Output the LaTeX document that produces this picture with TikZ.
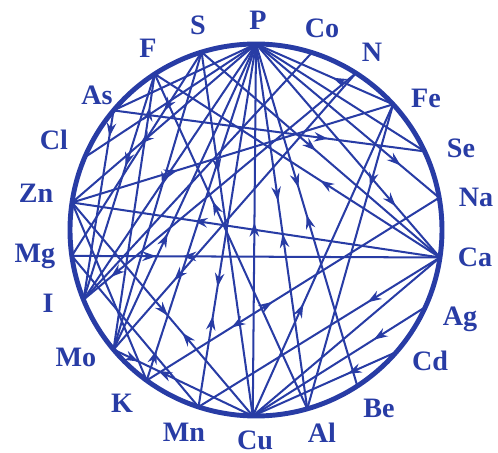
\documentclass[tikz,border=0pt]{standalone}
\usepackage{fontspec}
\setmainfont{Liberation Serif}
\usepackage{tikz}
\usetikzlibrary{calc,arrows.meta,decorations.markings}
\definecolor{elemblue}{RGB}{40,60,165}
\tikzset{
  ring/.style={draw=elemblue, line width=2.8pt},
  bond/.style={color=elemblue, line width=1.15pt},
  elem-label/.style={text=elemblue, font=\fontsize{16}{16}\selectfont\bfseries,
    inner sep=0pt, text height=10.5pt, text depth=0pt},
  fwd-at/.style={postaction={decorate, decoration={markings,
    mark=at position #1 with {\arrow{Stealth[length=8pt,width=5.4pt,inset=2.6pt]}}}}},
  back-at/.style={postaction={decorate, decoration={markings,
    mark=at position #1 with {\arrowreversed{Stealth[length=8pt,width=5.4pt,inset=2.6pt]}}}}}
}

\begin{document}
\begin{tikzpicture}[x=0.02cm, y=0.02cm]
\useasboundingbox (0,0) rectangle (498,453);
\coordinate (O) at (256,223);

% points on the ring
\coordinate (P)  at ($(O)+(90:186)$);
\coordinate (Co) at ($(O)+(72.5:186)$);
\coordinate (N)  at ($(O)+(57.5:186)$);
\coordinate (Fe) at ($(O)+(42.5:186)$);
\coordinate (Se) at ($(O)+(25:186)$);
\coordinate (Na) at ($(O)+(10:186)$);
\coordinate (Ca) at ($(O)+(-8.5:186)$);
\coordinate (Ag) at ($(O)+(-24.5:186)$);
\coordinate (Cd) at ($(O)+(-41:186)$);
\coordinate (Be) at ($(O)+(-57:186)$);
\coordinate (Al) at ($(O)+(-74:186)$);
\coordinate (Cu) at ($(O)+(-91:186)$);
\coordinate (Mn) at ($(O)+(-108:186)$);
\coordinate (K)  at ($(O)+(-126:186)$);
\coordinate (Mo) at ($(O)+(-140:186)$);
\coordinate (I)  at ($(O)+(-158:186)$);
\coordinate (Mg) at ($(O)+(-172:186)$);
\coordinate (Zn) at ($(O)+(171.5:186)$);
\coordinate (Cl) at ($(O)+(157:186)$);
\coordinate (As) at ($(O)+(140:186)$);
\coordinate (F)  at ($(O)+(123:186)$);
\coordinate (S)  at ($(O)+(107:186)$);

% Element labels
\node[elem-label] (lbl-P)  at (258,433) {P};
\node[elem-label] (lbl-Co) at (322,425) {Co};
\node[elem-label] (lbl-N)  at (372,401) {N};
\node[elem-label] (lbl-Fe) at (426,355) {Fe};
\node[elem-label] (lbl-Se) at (461,305) {Se};
\node[elem-label] (lbl-Na) at (476,256) {Na};
\node[elem-label] (lbl-Ca) at (475,196) {Ca};
\node[elem-label] (lbl-Ag) at (460,137) {Ag};
\node[elem-label] (lbl-Cd) at (430,92)  {Cd};
\node[elem-label] (lbl-Be) at (379,45)  {Be};
\node[elem-label] (lbl-Al) at (322,20)  {Al};
\node[elem-label] (lbl-Cu) at (255,13)  {Cu};
\node[elem-label] (lbl-Mn) at (184,21)  {Mn};
\node[elem-label] (lbl-K)  at (122,50)  {K};
\node[elem-label] (lbl-Mo) at (76,96)   {Mo};
\node[elem-label] (lbl-I)  at (48,150)  {I};
\node[elem-label] (lbl-Mg) at (35,200)  {Mg};
\node[elem-label] (lbl-Zn) at (36,260)  {Zn};
\node[elem-label] (lbl-Cl) at (54,313)  {Cl};
\node[elem-label] (lbl-As) at (97,358)  {As};
\node[elem-label] (lbl-F)  at (148,405) {F};
\node[elem-label] (lbl-S)  at (198,428) {S};

% Chords from P
\draw[bond] (P) -- (Cl);
\draw[bond, fwd-at=0.63] (P) -- (Zn);
\draw[bond] (P) -- (As);
\draw[bond] (P) -- (I);
\draw[bond, fwd-at=0.38] (Mo) -- (P);
\draw[bond, fwd-at=0.09] (K) -- (P);
\draw[bond, fwd-at=0.67, back-at=0.75] (P) -- (Mn);
\draw[bond, fwd-at=0.52] (Cu) -- (P);
\draw[bond, fwd-at=0.43, back-at=0.52] (P) -- (Al);
\draw[bond, fwd-at=0.42, back-at=0.50] (P) -- (Be);
\draw[bond, fwd-at=0.76] (P) -- (Ca);
\draw[bond, fwd-at=0.79] (P) -- (Na);
\draw[bond] (P) -- (Se);
\draw[bond, fwd-at=0.44] (Fe) -- (P);

% Chords from S and F
\draw[bond, fwd-at=0.33] (S) -- (Cu);
\draw[bond, fwd-at=0.48] (S) -- (Ca);
\draw[bond, fwd-at=0.29] (S) -- (Mg);
\draw[bond, fwd-at=0.45] (S) -- (Mo);
\draw[bond, fwd-at=0.42] (Ca) -- (F);
\draw[bond, fwd-at=0.62] (Al) -- (F);
\draw[bond, fwd-at=0.88] (Mo) -- (F);
\draw[bond, fwd-at=0.41] (F) -- (I);

% Left side
\draw[bond, fwd-at=0.69] (As) -- (Se);
\draw[bond, fwd-at=0.14] (As) -- (I);
\draw[bond, fwd-at=0.67] (Ca) -- (Zn);
\draw[bond, fwd-at=0.33] (Zn) -- (Fe);
\draw[bond, fwd-at=0.53, back-at=0.61] (Zn) -- (Cu);
\draw[bond] (Zn) -- (K);
\draw[bond, fwd-at=0.23, back-at=0.30] (Mg) -- (Ca);
\draw[bond] (Mg) -- (Mn);
\draw[bond, fwd-at=0.9] (N) -- (I);
\draw[bond] (Co) -- (I);
\draw[bond, fwd-at=0.75] (N) -- (Mo);
\draw[bond, fwd-at=0.18, back-at=0.32] (Mo) -- (Cu);
\draw[bond, back-at=0.29, fwd-at=0.43] (K) -- (Na);

% Lower right
\draw[bond, fwd-at=0.30] (Ca) -- (Mn);
\draw[bond, fwd-at=0.36] (Cu) -- (Fe);
\draw[bond] (Cu) -- (Ca);
\draw[bond, fwd-at=0.30] (Ag) -- (Cu);
\draw[bond, fwd-at=0.34] (Cd) -- (Cu);
\draw[bond, fwd-at=0.27] (Fe) -- (Al);

% Ring
\draw[ring] (O) circle (186);
\end{tikzpicture}
\end{document}
